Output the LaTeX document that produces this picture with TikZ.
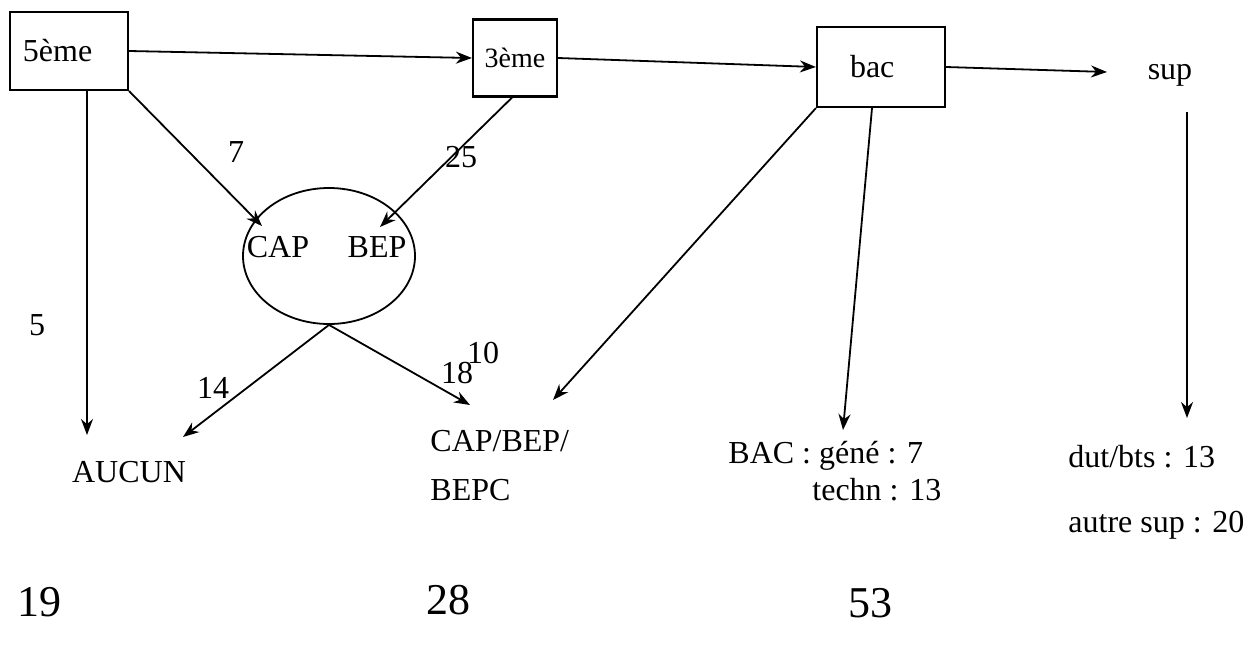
\documentclass[tikz,border=0pt]{standalone}
\usepackage{fontspec}
\setmainfont{Liberation Serif}
\usepackage{tikz}
\usetikzlibrary{arrows.meta,shapes.geometric,positioning}

\begin{document}
\begin{tikzpicture}[x=0.5pt,y=-0.5pt,
		niveau/.style={
			% The shape:
			rectangle,draw,line width=1.1pt,inner ysep=0pt,align=left,
			% The rest
			font=\fontsize{16}{19}\selectfont},
		etiq/.style={inner sep=0pt,font=\fontsize{16}{19}\selectfont},
		total/.style={inner sep=0pt,font=\fontsize{22}{26}\selectfont},
		fleche/.style={line width=0.9pt,-{Stealth[length=8pt,width=6pt]}}]
		\useasboundingbox (0,0) rectangle (1252,659);
		\node (n_cinq)	[niveau,inner xsep=6.5pt,text width=46pt,minimum height=39pt] at (69,51)	{5ème};
		\node (n_trois)	[niveau,inner xsep=0pt,align=center,text width=42pt,minimum height=38.5pt,
				font=\fontsize{14}{17}\selectfont] at (515,58)	{3ème};
		\node (n_bac)	[niveau,inner xsep=16.5pt,text width=31pt,minimum height=40pt] at (881,67)	{bac};
		\node (n_sup)	[etiq] at (1170,75) {sup};
		\node (n_ell)	[ellipse,draw,line width=0.9pt,minimum width=86pt,minimum height=68pt] at (329,256) {};
		\node (n_cap)	[etiq] at (278,247) {CAP};
		\node (n_bep)	[etiq] at (377,247) {BEP};
		\node (n_aucun)	[etiq] at (129,472) {AUCUN};
		\node (n_cb1)	[etiq,anchor=west] at (430,441) {CAP/BEP/};
		\node (n_cb2)	[etiq,anchor=west] at (430,490) {BEPC};
		\node (n_bg)	[etiq,anchor=west] at (728,456) {BAC : géné : 7};
		\node (n_bt)	[etiq,anchor=west] at (812,490) {techn : 13};
		\node (n_dut)	[etiq,anchor=west] at (1068,457) {dut/bts : 13};
		\node (n_autre)	[etiq,anchor=west] at (1068,525) {autre sup : 20};
		\node (t_un)	[total] at (40,602) {19};
		\node (t_deux)	[total] at (448,600) {28};
		\node (t_trois)	[total] at (870,603) {53};
		% arrow ends
		\coordinate (p_aucun) at (87,435);
		\coordinate (p_cap) at (262,226);
		\coordinate (p_bep) at (380,227);
		\coordinate (p_aucun2) at (183,437);
		\coordinate (p_cb) at (470,405);
		\coordinate (p_cb2) at (553,400);
		\coordinate (p_bac) at (843,430);
		\coordinate (p_supt) at (1187,112);
		\coordinate (p_sup) at (1187,418);
		\coordinate (p_supd) at (1107,72);
		% numbers on the arrows
		\node [etiq] at (37,325) {5};
		\node [etiq] at (236,152) {7};
		\node [etiq] at (461,157) {25};
		\node [etiq] at (213,388) {14};
		\node [etiq] at (457,373) {18};
		\node [etiq] at (483,353) {10};

		\draw[fleche]	(n_cinq.east)	-- (n_trois.west);
		\draw[fleche]	(n_trois.east)	-- (n_bac.west);
		\draw[fleche]	(n_bac.east)	-- (p_supd);
		\draw[fleche]	(n_cinq.south -| p_aucun) -- (p_aucun);
		\draw[fleche]	(n_cinq.south east) -- (p_cap);
		\draw[fleche]	(n_trois.south -| 512,0) -- (p_bep);
		\draw[fleche]	(n_ell.south)	-- (p_aucun2);
		\draw[fleche]	(n_ell.south)	-- (p_cb);
		\draw[fleche]	(n_bac.south west) -- (p_cb2);
		\draw[fleche]	(n_bac.south -| 872,0) -- (p_bac);
		\draw[fleche]	(p_supt) -- (p_sup);
\end{tikzpicture}
\end{document}
